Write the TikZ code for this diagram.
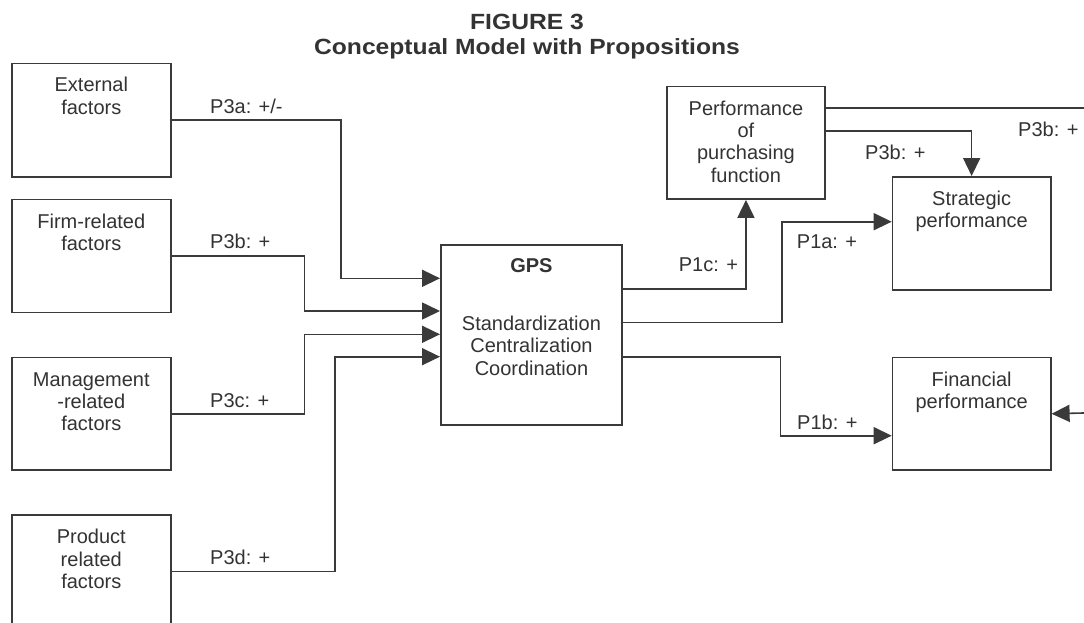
\documentclass[tikz,border=0pt]{standalone}
\usepackage{fontspec}
\setmainfont{Liberation Sans}
\newfontfamily\titlefont[FakeStretch=1.12]{Liberation Sans}
\usetikzlibrary{arrows.meta}
\definecolor{lc}{HTML}{3A3A3A}
\definecolor{tc}{HTML}{333333}
\tikzset{
  boxnode/.style={draw=lc, line width=1.6pt, inner sep=0pt, anchor=north west, minimum width=#1},
  boxnode/.default=159pt,
  boxtext/.style={text=tc, align=center, inner sep=0pt, anchor=base, font=\fontsize{20}{22.4}\selectfont},
  plabel/.style={text=tc, inner sep=0pt, anchor=base west, font=\fontsize{20}{22.4}\selectfont},
  conn/.style={draw=lc, line width=1.6pt},
  arr/.style={conn, -{Triangle[length=18pt,width=17pt]}},
}
\begin{document}
\begin{tikzpicture}[x=1pt,y=-1pt]
\useasboundingbox (0,0) rectangle (1084,623);
\fill[white] (0,0) rectangle (1084,623);
\clip (0,0) rectangle (1084,623);

% title
\node[text=tc, inner sep=0pt, anchor=base, font={\titlefont\bfseries\fontsize{22}{25}\selectfont}] (title1) at (527,29.3) {FIGURE 3};
\node[text=tc, inner sep=0pt, anchor=base, font={\titlefont\bfseries\fontsize{22}{25}\selectfont}] (title2) at (527,54.3) {Conceptual Model with Propositions};

% boxes
\node[boxnode, minimum height=113.3pt] (ext) at (11,62.7) {};
\node[boxnode, minimum height=113pt] (firm) at (11,198.7) {};
\node[boxnode, minimum height=112.6pt] (mgmt) at (11,356.7) {};
\node[boxnode, minimum height=112.8pt] (prod) at (11,514.3) {};
\node[boxnode=181.3pt, minimum height=180pt] (gps) at (440,244) {};
\node[boxnode=158.3pt, minimum height=112.6pt] (perf) at (666,85.7) {};
\node[boxnode=158.3pt, minimum height=113pt] (strat) at (891.7,176) {};
\node[boxnode=158.3pt, minimum height=112.6pt] (fin) at (891.7,356.7) {};

% box texts (anchor = baseline of last line)
\node[boxtext] (text-ext) at ([yshift=-51.7pt]ext.north) {External\\factors};
\node[boxtext] (text-firm) at ([yshift=-51.7pt]firm.north) {Firm-related\\factors};
\node[boxtext] (text-mgmt) at ([yshift=-74.1pt]mgmt.north) {Management\\-related\\factors};
\node[boxtext] (text-prod) at ([yshift=-74.1pt]prod.north) {Product\\related\\factors};
\node[boxtext] (text-perf) at ([yshift=-96.5pt]perf.north) {Performance\\of\\purchasing\\function};
\node[boxtext] (text-strat) at ([yshift=-51.7pt]strat.north) {Strategic\\performance};
\node[boxtext] (text-fin) at ([yshift=-51.7pt]fin.north) {Financial\\performance};
\node[boxtext, font=\bfseries\fontsize{20}{22.4}\selectfont] (text-gps) at ([yshift=-28pt]gps.north) {GPS};
\node[boxtext] (text-gps2) at ([yshift=-131.1pt]gps.north) {Standardization\\Centralization\\Coordination};

% free ends on the right edge
\coordinate (offR1) at (1095,108.3);
\coordinate (offR2) at (1095,412.7);

% connectors into GPS
\draw[arr] (ext.east) -| (340.7,278.3) -- (gps.west |- 0,278.3);
\draw[arr] (firm.east) -| (304.3,311) -- (gps.west |- 0,311);
\draw[arr] (mgmt.east) -| (304.3,334.3) -- (gps.west |- 0,334.3);
\draw[arr] (prod.east) -| (335,356.7) -- (gps.west |- 0,356.7);

% connectors out of GPS
\draw[arr] (gps.east |- 0,289) -| (perf.south);
\draw[arr] (gps.east |- 0,322.3) -| (781.7,221.7) -- (strat.west |- 0,221.7);
\draw[arr] (gps.east |- 0,356.7) -| (780.3,435.7) -- (fin.west |- 0,435.7);

% from performance of purchasing function
\draw[arr] (perf.east |- 0,131) -| (strat.north);
\draw[conn] (perf.east |- 0,108.3) -- (offR1);
\draw[arr] (offR2) -- (fin.east);

% labels
\node[plabel] (l-p3a) at (210,113.5) {P3a: +/-};
\node[plabel] (l-p3b1) at (210,248.5) {P3b: +};
\node[plabel] (l-p3c) at (210,407) {P3c: +};
\node[plabel] (l-p3d) at (210,564.5) {P3d: +};
\node[plabel] (l-p1c) at (678.7,271) {P1c: +};
\node[plabel] (l-p1a) at (796.7,248.5) {P1a: +};
\node[plabel] (l-p1b) at (797,429.5) {P1b: +};
\node[plabel] (l-p3b2) at (865,159.5) {P3b: +};
\node[plabel] (l-p3b3) at (1018,136) {P3b: +};
\end{tikzpicture}
\end{document}
